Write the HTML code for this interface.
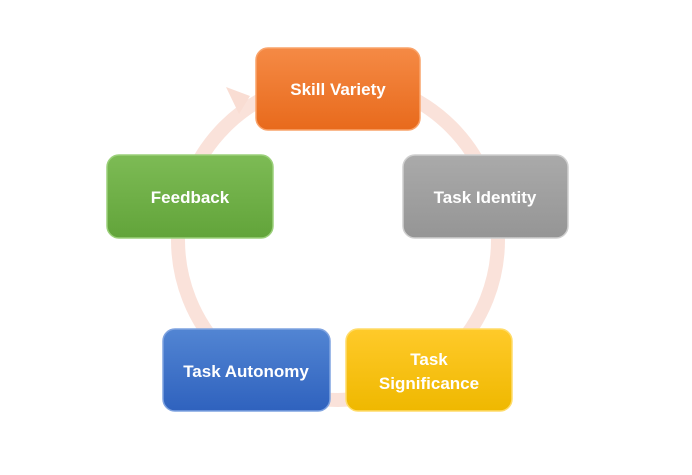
<!DOCTYPE html>
<html><head><meta charset="utf-8"><style>
html,body{margin:0;padding:0;background:#fff;width:692px;height:475px;overflow:hidden}
text{font-family:"Liberation Sans",sans-serif;font-weight:bold;fill:#fff;font-size:17px}
</style></head><body>
<svg width="692" height="475" viewBox="0 0 692 475" xmlns="http://www.w3.org/2000/svg">
<defs>
<linearGradient id="o" x1="0" y1="0" x2="0" y2="1"><stop offset="0" stop-color="#f58a45"/><stop offset="1" stop-color="#e86a1c"/></linearGradient>
<linearGradient id="g" x1="0" y1="0" x2="0" y2="1"><stop offset="0" stop-color="#7dbb55"/><stop offset="1" stop-color="#62a43a"/></linearGradient>
<linearGradient id="s" x1="0" y1="0" x2="0" y2="1"><stop offset="0" stop-color="#aaaaaa"/><stop offset="1" stop-color="#959595"/></linearGradient>
<linearGradient id="b" x1="0" y1="0" x2="0" y2="1"><stop offset="0" stop-color="#5285d3"/><stop offset="1" stop-color="#2f62be"/></linearGradient>
<linearGradient id="y" x1="0" y1="0" x2="0" y2="1"><stop offset="0" stop-color="#ffca2a"/><stop offset="1" stop-color="#efb800"/></linearGradient>
</defs>
<circle cx="338" cy="240" r="160" fill="none" stroke="#f6cfc2" stroke-width="14" opacity="0.6"/>
<polygon points="226,87 250,96 239,114" fill="#f9ddd3"/>
<g>
<rect x="256" y="48" width="164" height="82" rx="12" fill="url(#o)" stroke="#f9a36a" stroke-width="1.5"/>
<text x="338" y="95" text-anchor="middle">Skill Variety</text>
<rect x="107" y="155" width="166" height="83" rx="12" fill="url(#g)" stroke="#9bd07a" stroke-width="1.5"/>
<text x="190" y="203" text-anchor="middle">Feedback</text>
<rect x="403" y="155" width="165" height="83" rx="12" fill="url(#s)" stroke="#cfcfcf" stroke-width="1.5"/>
<text x="485" y="203" text-anchor="middle">Task Identity</text>
<rect x="163" y="329" width="167" height="82" rx="12" fill="url(#b)" stroke="#7fa3e0" stroke-width="1.5"/>
<text x="246" y="377" text-anchor="middle">Task Autonomy</text>
<rect x="346" y="329" width="166" height="82" rx="12" fill="url(#y)" stroke="#ffdc6a" stroke-width="1.5"/>
<text x="429" y="365" text-anchor="middle">Task</text>
<text x="429" y="389" text-anchor="middle">Significance</text>
</g>
</svg>
</body></html>
